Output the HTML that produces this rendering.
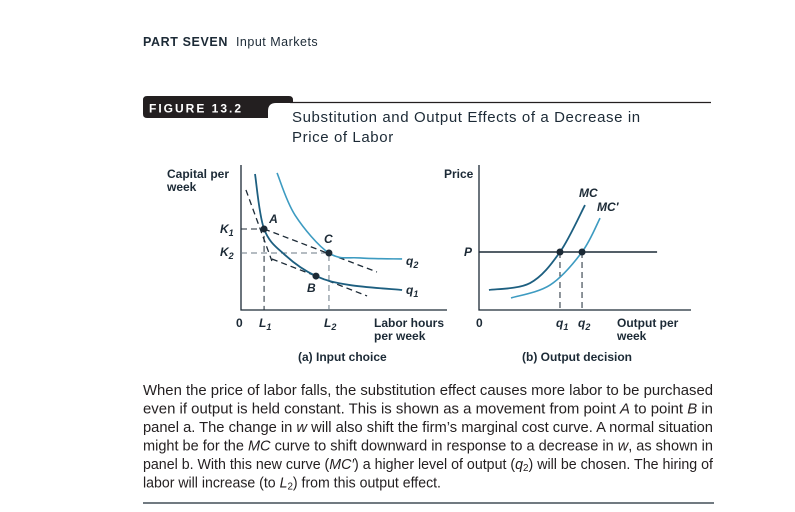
<!DOCTYPE html>
<html><head><meta charset="utf-8"><style>
html,body{margin:0;padding:0;background:#fff;}
svg{display:block;font-family:"Liberation Sans",sans-serif;}
.lbl{font-weight:bold;font-size:12px;fill:#1c2a36;}
.it{font-style:italic;}
.body{font-size:14.4px;fill:#231f20;}
</style></head><body>
<svg id="c" width="795" height="512" viewBox="0 0 795 512">
<text x="143" y="46" font-size="12.5" fill="#1c2a36"><tspan font-weight="bold" letter-spacing="0.6">PART SEVEN</tspan><tspan dx="8" letter-spacing="0.5">Input Markets</tspan></text>
<line x1="290" y1="102.5" x2="711" y2="102.5" stroke="#231f20" stroke-width="1.3"/>
<path d="M143,100 Q143,96 147,96 L289,96 Q293,96 293,100 L293,103 L276,103 Q268,103 268,111 L268,118 L147,118 Q143,118 143,114 Z" fill="#231f20"/>
<text x="149" y="112.5" font-size="12" font-weight="bold" fill="#fff" letter-spacing="2">FIGURE 13.2</text>
<text x="292" y="122" font-size="15" fill="#1c2a36" letter-spacing="0.6">Substitution and Output Effects of a Decrease in</text>
<text x="292" y="142" font-size="15" fill="#1c2a36" letter-spacing="0.6">Price of Labor</text>
<g id="pa"></g>
<g id="pb"></g>
<g>
<text class="body" x="143" y="395" textLength="570" lengthAdjust="spacingAndGlyphs">When the price of labor falls, the substitution effect causes more labor to be purchased</text>
<text class="body" x="143" y="413.5" textLength="570" lengthAdjust="spacingAndGlyphs">even if output is held constant. This is shown as a movement from point <tspan class="it">A</tspan> to point <tspan class="it">B</tspan> in</text>
<text class="body" x="143" y="432" textLength="570" lengthAdjust="spacingAndGlyphs">panel a. The change in <tspan class="it">w</tspan> will also shift the firm’s marginal cost curve. A normal situation</text>
<text class="body" x="143" y="450.5" textLength="570" lengthAdjust="spacingAndGlyphs">might be for the <tspan class="it">MC</tspan> curve to shift downward in response to a decrease in <tspan class="it">w</tspan>, as shown in</text>
<text class="body" x="143" y="469" textLength="570" lengthAdjust="spacingAndGlyphs">panel b. With this new curve (<tspan class="it">MC′</tspan>) a higher level of output (<tspan class="it">q</tspan><tspan font-size="10" dy="2">2</tspan><tspan dy="-2">) will be chosen. The hiring of</tspan></text>
<text class="body" x="143" y="487.5" textLength="298" lengthAdjust="spacingAndGlyphs">labor will increase (to <tspan class="it">L</tspan><tspan font-size="10" dy="2">2</tspan><tspan dy="-2">) from this output effect.</tspan></text>
</g>
<line x1="143" y1="503" x2="714" y2="503" stroke="#1c2a36" stroke-width="1.3"/>
</svg>
<script>
// Panel a data (units 0..100)
const q1Curve=[[6.8,93.8],[11.2,55.9],[21.4,37.9],[36.4,23.4],[52.9,17.2],[78.2,13.8]];
const q2Curve=[[17.5,94.5],[26.2,65.5],[42.7,39.3],[57.8,35.9],[78.2,35.2]];
const pointA=[11.2,55.9], pointB=[36.4,23.4], pointC=[42.7,39.3];
const budgetOld=[[2.4,82.8],[15.0,33.8]];
const budgetThroughAC=[[11.2,55.9],[66.0,26.2]];
const budgetNew=[[15.0,35.2],[61.2,9.7]];
// Panel b data
const mcCurve=[[4.7,13.8],[24.1,18.6],[38.2,40],[50,72.4]];
const mcPrimeCurve=[[15.1,8.3],[33.5,17.2],[48.6,40],[57.1,63.4]];
const priceP=40, q1Out=38.2, q2Out=48.6;

const NS="http://www.w3.org/2000/svg";
const ax=v=>241+v*2.06, ay=v=>310-v*1.45;
const bx=v=>479+v*2.12, by=v=>310-v*1.45;
function mk(g,t,a){const e=document.createElementNS(NS,t);for(const k in a)e.setAttribute(k,a[k]);g.appendChild(e);return e;}
function smooth(pts,fx,fy){const p=pts.map(d=>[fx(d[0]),fy(d[1])]);let s="M"+p[0][0]+","+p[0][1];
for(let i=0;i<p.length-1;i++){const p0=p[i-1]||p[i],p1=p[i],p2=p[i+1],p3=p[i+2]||p2;
s+=" C"+(p1[0]+(p2[0]-p0[0])/6)+","+(p1[1]+(p2[1]-p0[1])/6)+" "+(p2[0]-(p3[0]-p1[0])/6)+","+(p2[1]-(p3[1]-p1[1])/6)+" "+p2[0]+","+p2[1];}return s;}
function txt(g,x,y,s,cls,name){const t=mk(g,"text",{x:x,y:y,class:cls});t.textContent=s;

return t;}
function sub(g,x,y,base,n,name){const t=mk(g,"text",{x:x,y:y,class:"lbl it"});t.textContent=base;const s=mk(t,"tspan",{"font-size":"9",dy:"3"});s.textContent=n;

}
const dark="#1c2a36", teal="#1d5f80", light="#3d9bc1";
const A=document.getElementById("pa");
// axes
let e=mk(A,"path",{d:"M"+ax(0)+","+ay(100)+" L"+ax(0)+","+ay(0)+" L"+ax(100)+","+ay(0),fill:"none",stroke:dark,"stroke-width":1.3});


// guide lines
e=mk(A,"path",{d:"M"+ax(0)+","+ay(pointA[1])+" H"+ax(pointA[0])+" V"+ay(0),fill:"none",stroke:dark,"stroke-width":1,"stroke-dasharray":"6,4"});


e=mk(A,"path",{d:"M"+ax(0)+","+ay(pointC[1])+" H"+ax(pointC[0])+" V"+ay(0),fill:"none",stroke:"#6b7a86","stroke-width":1,"stroke-dasharray":"6,4"});


[[budgetOld,'budget-line-old'],[budgetThroughAC,'budget-line-ac'],[budgetNew,'budget-line-new']].forEach(([b,n])=>{
const l=mk(A,"line",{x1:ax(b[0][0]),y1:ay(b[0][1]),x2:ax(b[1][0]),y2:ay(b[1][1]),stroke:dark,"stroke-width":1.3,"stroke-dasharray":"6,4"});

});
e=mk(A,"path",{d:smooth(q2Curve,ax,ay),fill:"none",stroke:light,"stroke-width":1.6});


e=mk(A,"path",{d:smooth(q1Curve,ax,ay),fill:"none",stroke:teal,"stroke-width":1.8});


[[pointA,'point-a'],[pointB,'point-b'],[pointC,'point-c']].forEach(([p,n])=>{const c=mk(A,"circle",{cx:ax(p[0]),cy:ay(p[1]),r:3.5,fill:dark});

});
txt(A,ax(pointA[0])+5,ay(pointA[1])-6,"A","lbl it","label-a");
txt(A,ax(pointC[0])-5,ay(pointC[1])-10,"C","lbl it","label-c");
txt(A,ax(pointB[0])-9,ay(pointB[1])+16,"B","lbl it","label-b");
sub(A,406,265,"q","2","label-q2");
sub(A,406,294,"q","1","label-q1");
sub(A,220,233,"K","1","label-k1");
sub(A,220,256,"K","2","label-k2");
txt(A,236,327,"0","lbl","origin-a");
sub(A,259,327,"L","1","label-l1");
sub(A,324,327,"L","2","label-l2");
txt(A,167,178,"Capital per","lbl","y-axis-title-a");
txt(A,167,191,"week","lbl","y-axis-title-a2");
txt(A,374,327,"Labor hours","lbl","x-axis-title-a");
txt(A,374,340,"per week","lbl","x-axis-title-a2");
txt(A,298,361,"(a) Input choice","lbl","panel-a-caption");
const B=document.getElementById("pb");
e=mk(B,"path",{d:"M"+bx(0)+","+by(100)+" L"+bx(0)+","+by(0)+" L"+bx(100)+","+by(0),fill:"none",stroke:dark,"stroke-width":1.3});


e=mk(B,"line",{x1:bx(0),y1:by(priceP),x2:bx(84),y2:by(priceP),stroke:dark,"stroke-width":1.6});


[[q1Out,'guide-q1'],[q2Out,'guide-q2']].forEach(([q,n])=>{const l=mk(B,"line",{x1:bx(q),y1:by(priceP),x2:bx(q),y2:by(0),stroke:dark,"stroke-width":1,"stroke-dasharray":"6,4"});

});
e=mk(B,"path",{d:smooth(mcCurve,bx,by),fill:"none",stroke:teal,"stroke-width":1.8});


e=mk(B,"path",{d:smooth(mcPrimeCurve,bx,by),fill:"none",stroke:light,"stroke-width":1.6});


[[q1Out,'point-q1'],[q2Out,'point-q2']].forEach(([q,n])=>{const c=mk(B,"circle",{cx:bx(q),cy:by(priceP),r:3.5,fill:dark});

});
txt(B,579,197,"MC","lbl it","label-mc");
txt(B,597,211,"MC′","lbl it","label-mc-prime");
txt(B,464,256,"P","lbl it","label-p");
txt(B,444,178,"Price","lbl","y-axis-title-b");
txt(B,476,327,"0","lbl","origin-b");
sub(B,bx(q1Out)-4,327,"q","1","label-out-q1");
sub(B,bx(q2Out)-4,327,"q","2","label-out-q2");
txt(B,617,327,"Output per","lbl","x-axis-title-b");
txt(B,617,340,"week","lbl","x-axis-title-b2");
txt(B,522,361,"(b) Output decision","lbl","panel-b-caption");
</script>
</body></html>
